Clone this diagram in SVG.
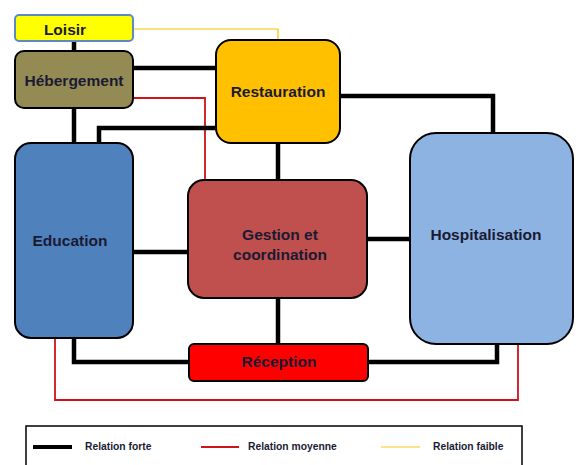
<svg xmlns="http://www.w3.org/2000/svg" width="579" height="465" viewBox="0 0 579 465">
<style>
.box{stroke:#000;stroke-width:2}
.lbl{font-family:"Liberation Sans",Arial,sans-serif;font-weight:bold;font-size:15.5px;fill:#1a1a33;text-anchor:middle;dominant-baseline:central}
.leg{font-family:"Liberation Sans",Arial,sans-serif;font-weight:bold;font-size:10.3px;fill:#1a1a33;dominant-baseline:central}
.strong{fill:none;stroke:#000;stroke-width:4.5}
.medium{fill:none;stroke:#d0121a;stroke-width:1.8}
.weak{fill:none;stroke:#ffc000;stroke-width:1.2}
</style>
<rect width="579" height="465" fill="#fff"/>
<g id="connectors">
<polyline class="weak" points="133,29 278,29 278,40"/>
<polyline class="strong" points="74,41 74,51"/>
<polyline class="strong" points="133,68 216,68"/>
<polyline class="strong" points="74,108 74,143"/>
<polyline class="medium" points="133,98 205,98 205,180"/>
<polyline class="strong" points="216,128 99,128 99,143"/>
<polyline class="strong" points="340,96 493,96 493,133"/>
<polyline class="strong" points="278,143 278,180"/>
<polyline class="strong" points="133,252 188,252"/>
<polyline class="strong" points="367,239 410,239"/>
<polyline class="strong" points="278,298 278,344"/>
<polyline class="strong" points="74,338 74,362 188,362"/>
<polyline class="strong" points="367,362 497,362 497,344"/>
<polyline class="medium" points="55,338 55,400 518,400 518,344"/>
</g>
<g id="loisir">
<rect x="15" y="15" width="118" height="26" rx="4" fill="#ffff00" stroke="#5b8ac6" stroke-width="2"/>
<text class="lbl" x="65" y="29">Loisir</text>
</g>
<g id="hebergement">
<rect class="box" x="15" y="51" width="118" height="57" rx="9" fill="#948a54"/>
<text class="lbl" x="74" y="80">Hébergement</text>
</g>
<g id="restauration">
<rect class="box" x="216" y="40" width="124" height="103" rx="15" fill="#ffc000"/>
<text class="lbl" x="278" y="91">Restauration</text>
</g>
<g id="education">
<rect class="box" x="15" y="143" width="118" height="195" rx="16" fill="#4f81bd"/>
<text class="lbl" x="70" y="240">Education</text>
</g>
<g id="gestion">
<rect class="box" x="188" y="180" width="179" height="118" rx="16" fill="#c0504d"/>
<text class="lbl" x="280" y="234">Gestion et</text>
<text class="lbl" x="280" y="254">coordination</text>
</g>
<g id="hospitalisation">
<rect class="box" x="410" y="133" width="163" height="211" rx="26" fill="#8db3e2"/>
<text class="lbl" x="486" y="234">Hospitalisation</text>
</g>
<g id="reception">
<rect class="box" x="189" y="344" width="179" height="37" rx="5" fill="#ff0000"/>
<text class="lbl" x="279" y="361">Réception</text>
</g>
<g id="legend">
<rect x="26" y="426" width="496" height="45" fill="#fff" stroke="#000" stroke-width="1.5"/>
<line x1="33" y1="447" x2="72" y2="447" stroke="#000" stroke-width="4"/>
<text class="leg" x="85" y="446">Relation forte</text>
<line x1="201" y1="447" x2="239" y2="447" stroke="#d0121a" stroke-width="1.8"/>
<text class="leg" x="248" y="446">Relation moyenne</text>
<line x1="381" y1="447" x2="420" y2="447" stroke="#ffd966" stroke-width="1.5"/>
<text class="leg" x="433" y="446">Relation faible</text>
</g>
</svg>
